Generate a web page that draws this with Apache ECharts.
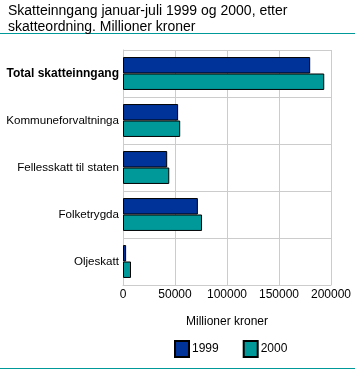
<!DOCTYPE html>
<html><head><meta charset="utf-8">
<script src="https://cdn.jsdelivr.net/npm/echarts@6/dist/echarts.min.js"></script>
<style>html,body{margin:0;padding:0;background:#fff}#c{width:355px;height:370px}</style>
</head><body><div id="c"></div>
<script>
const categories = ["Total skatteinngang", "Kommuneforvaltninga", "Fellesskatt til staten", "Folketrygda", "Oljeskatt"];
const values1999 = [180000, 53000, 42500, 72000, 3000];
const values2000 = [193500, 55000, 44500, 76000, 7700];
const seriesNames = ["1999", "2000"];
const xTicks = [0, 50000, 100000, 150000, 200000];

const FONT = "Liberation Sans";
const chart = echarts.init(document.getElementById('c'), null, {renderer: 'canvas'});
chart.setOption({
  animation: false,
  textStyle: {fontFamily: FONT},
  title: {
    text: "Skatteinngang januar-juli 1999 og 2000, etter\nskatteordning. Millioner kroner",
    left: 3, top: -2,
    textStyle: {fontFamily: FONT, fontSize: 14, fontWeight: 'normal', color: '#000', lineHeight: 16}
  },
  graphic: [
    {type: 'rect', shape: {x: 0, y: 33, width: 355, height: 1}, style: {fill: '#009999'}},
    {type: 'rect', shape: {x: 0, y: 368, width: 355, height: 1}, style: {fill: '#009999'}}
  ],
  legend: {
    data: seriesNames,
    left: 174, top: 340, padding: 0,
    itemWidth: 14, itemHeight: 16, itemGap: 24,
    icon: 'rect',
    textStyle: {fontFamily: FONT, fontSize: 12, color: '#000', padding: [0, 0, 0, -2]}
  },
  grid: {left: 123, right: 24, top: 50, bottom: 85, containLabel: false},
  xAxis: {
    type: 'value', min: xTicks[0], max: xTicks[xTicks.length - 1], interval: 50000,
    name: "Millioner kroner", nameLocation: 'middle', nameGap: 31,
    nameTextStyle: {fontFamily: FONT, fontSize: 12, color: '#000'},
    axisLine: {show: true, lineStyle: {color: '#cccccc'}},
    axisTick: {show: false},
    axisLabel: {fontFamily: FONT, fontSize: 12, color: '#000', margin: 4,
      formatter: function (v) { return String(v); }},
    splitLine: {show: true, lineStyle: {color: '#cccccc', width: 1}}
  },
  yAxis: {
    type: 'category', data: categories, inverse: true,
    axisLine: {show: true, lineStyle: {color: '#cccccc'}},
    axisTick: {show: false},
    axisLabel: {
      fontFamily: FONT, fontSize: 11.6, color: '#000', margin: 4,
      formatter: function (v, i) { return i === 0 ? '{b|' + v + '}' : v; },
      rich: {b: {fontFamily: FONT, fontSize: 12, fontWeight: 'bold', color: '#000'}}
    },
    splitLine: {show: true, lineStyle: {color: '#cccccc', width: 1}},
    splitArea: {show: false}
  },
  series: [
    {name: seriesNames[0], type: 'bar', data: values1999, barGap: '0%', barCategoryGap: '30%',
     itemStyle: {color: '#003399', borderColor: '#000', borderWidth: 1}},
    {name: seriesNames[1], type: 'bar', data: values2000, barGap: '0%', barCategoryGap: '30%',
     itemStyle: {color: '#009999', borderColor: '#000', borderWidth: 1}}
  ]
});
</script></body></html>
